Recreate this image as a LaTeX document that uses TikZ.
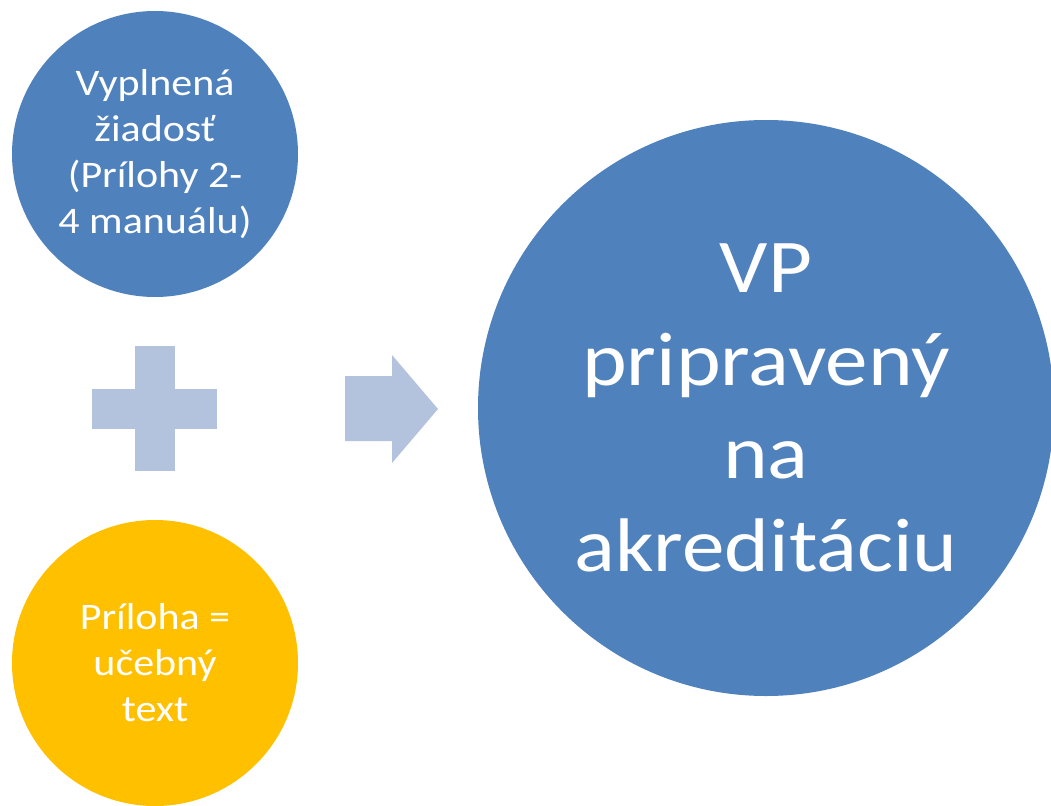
\documentclass[tikz,border=0pt]{standalone}
\usepackage{fontspec}
\setmainfont{Carlito}[FakeStretch=1.12]
\definecolor{vpblue}{HTML}{4F81BD}
\definecolor{vporange}{HTML}{FFC000}
\definecolor{vplight}{HTML}{B3C2DD}
\begin{document}
\begin{tikzpicture}[x=1pt,y=-1pt,
  bubble/.style={circle, inner sep=0pt, text=white, align=center},
  smallbubble/.style={bubble, minimum size=286pt, font=\fontsize{37.5}{46}\selectfont},
  bigbubble/.style={bubble, minimum size=576pt, font=\fontsize{76}{93}\selectfont},
  symbolshape/.style={fill=vplight}]
\useasboundingbox (0,0) rectangle (1051,805);
\node[smallbubble, fill=vpblue] (req) at (155,154) {Vyplnená\\žiadosť\\(Prílohy 2-\\4 manuálu)};
\node[smallbubble, fill=vporange] (att) at (155,663) {Príloha =\\učebný\\text};
\node[bigbubble, fill=vpblue] (vp) at (766,408) {VP\\pripravený\\na\\akreditáciu};
% plus sign
\fill[symbolshape] (92,389) rectangle (217,429);
\fill[symbolshape] (135,346) rectangle (175,471);
% arrow
\fill[symbolshape] (345,376) -- (392,376) -- (392,355) -- (438,409) -- (392,463) -- (392,441) -- (345,441) -- cycle;
\end{tikzpicture}
\end{document}
